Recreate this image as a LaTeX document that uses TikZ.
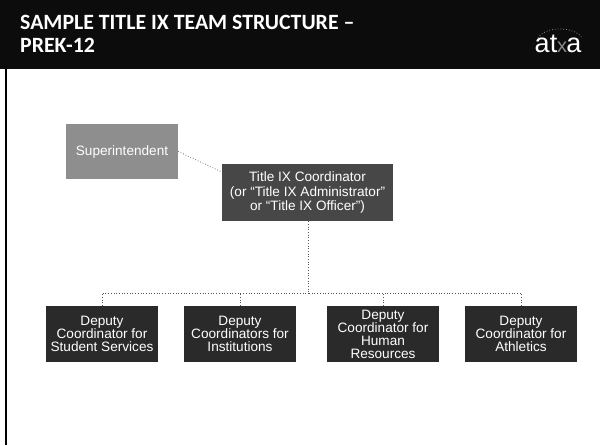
\documentclass[tikz,border=0pt]{standalone}
\usepackage{fontspec}
\setmainfont{Liberation Sans}
\newfontfamily\titlefont{Carlito}
\definecolor{hdr}{HTML}{0C0C0C}
\definecolor{gbox}{HTML}{8E8E8E}
\definecolor{mbox}{HTML}{474747}
\definecolor{dbox}{HTML}{2A2A2A}
\definecolor{conn}{HTML}{555555}
\definecolor{logodim}{HTML}{8A8A8A}
\tikzset{
  orgbox/.style={draw=none,text=white,align=center,inner sep=0pt,font=\fontsize{13.6}{13.2}\selectfont},
  superbox/.style={orgbox,fill=gbox,minimum width=112pt,minimum height=55pt},
  coordbox/.style={orgbox,fill=mbox,minimum width=171pt,minimum height=57pt,font=\fontsize{13.6}{14.8}\selectfont},
  depbox/.style={orgbox,fill=dbox,minimum width=112pt,minimum height=56pt},
  link/.style={conn,line width=0.7pt,dotted}
}
\begin{document}
\begin{tikzpicture}[x=1pt,y=-1pt]
\useasboundingbox (0,0) rectangle (600,445);
\fill[white] (0,0) rectangle (600,445);
\fill[hdr] (0,0) rectangle (600,69);
\fill[black] (5,69) rectangle (7,445);
\node[anchor=west,text=white,align=left,inner sep=0pt,font=\titlefont\bfseries\fontsize{21.8}{23}\selectfont] (title) at (20,34) {SAMPLE TITLE IX TEAM STRUCTURE –\\PREK-12};
\node[text=white,inner sep=0pt,font=\fontsize{27}{27}\selectfont,anchor=base] (logoL) at (546,52) {at};
\node[text=logodim,inner sep=0pt,font=\fontsize{20}{20}\selectfont,anchor=base] (logoM) at (562,52) {x};
\node[text=white,inner sep=0pt,font=\fontsize{27}{27}\selectfont,anchor=base] (logoR) at (574,52) {a};
\draw[logodim,line width=0.8pt,dotted] (538,38) .. controls (545,26) and (575,26) .. (582,38);
\node[superbox] (sup) at (122,151.5) {Superintendent};
\node[coordbox] (coord) at (307.5,192.5) {Title IX Coordinator\\(or “Title IX Administrator”\\or “Title IX Officer”)};
\node[depbox] (d1) at (102,334) {Deputy\\Coordinator for\\Student Services};
\node[depbox] (d2) at (240,334) {Deputy\\Coordinators for\\Institutions};
\node[depbox,font=\fontsize{13.6}{12.6}\selectfont] (d3) at (383,334) {Deputy\\Coordinator for\\Human\\Resources};
\node[depbox] (d4) at (521,334) {Deputy\\Coordinator for\\Athletics};
\coordinate (bus) at (308,293);
\draw[link] (sup.east) -- (coord.west |- 0,172);
\draw[link] (coord.south -| bus) -- (bus);
\draw[link] (d1.north) |- (bus);
\draw[link] (d2.north) -- (d2.north |- bus);
\draw[link] (d3.north) -- (d3.north |- bus);
\draw[link] (d4.north) |- (bus);
\end{tikzpicture}
\end{document}
